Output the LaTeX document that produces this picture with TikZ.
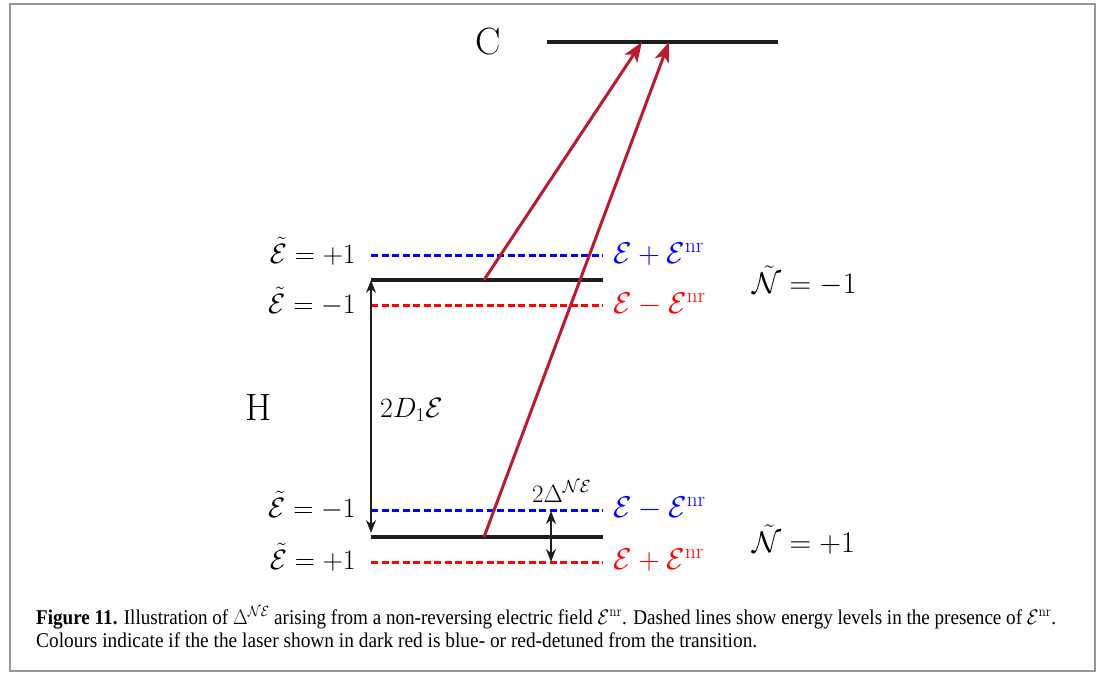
\RequirePackage{fix-cm}
\documentclass[tikz,border=0pt]{standalone}
\usepackage{fontspec}
\newfontfamily\capfont{Liberation Serif}
\usepackage{graphicx}
\usetikzlibrary{positioning, arrows.meta}
\definecolor{laserred}{RGB}{184,28,48}
\definecolor{levelblack}{RGB}{30,30,30}
\definecolor{framegray}{RGB}{150,150,150}

\begin{document}
\begin{tikzpicture}[x=1pt,y=-1pt]
  \tikzset{
    level/.style={line width=3.2pt, draw=levelblack},
    shifted/.style={line width=3pt, dash pattern=on 7pt off 3.5pt},
    laser/.style={line width=3pt, draw=laserred, -{Stealth[length=20pt,width=15pt,inset=5pt]}},
    gap/.style={line width=1.4pt, draw=levelblack, {Stealth[length=13pt,width=10pt]}-{Stealth[length=13pt,width=10pt]}},
    statelabel/.style={font=\fontsize{28}{32}\selectfont, inner sep=0pt},
    fieldlabel/.style={font=\fontsize{30}{34}\selectfont, inner sep=0pt},
    manifold/.style={font=\fontsize{38}{42}\selectfont, inner sep=0pt},
    caption/.style={font=\capfont\fontsize{21}{25}\selectfont, inner sep=0pt, anchor=base west}
  }
  \useasboundingbox (0,0) rectangle (1102,675);

  % frame round the figure
  \draw[framegray, line width=2pt] (10,4) rectangle (1095,671);

  % C state
  \coordinate (cL) at (547,42);
  \coordinate (cR) at (778,42);
  \coordinate (cE1) at (642,42);
  \coordinate (cE2) at (669,42);
  \draw[level] (cL) -- (cR);
  \node[manifold] (clab) at (488,42) {C};

  % H state, N = -1 manifold
  \coordinate (uL) at (371,280);
  \coordinate (uR) at (603,280);
  \coordinate (ubL) at (371,255);
  \coordinate (ubR) at (603,255);
  \coordinate (urL) at (371,305);
  \coordinate (urR) at (603,305);
  \coordinate (uS) at (484,280);
  \draw[level] (uL) -- (uR);
  \draw[shifted, blue] (ubL) -- (ubR);
  \draw[shifted, red] (urL) -- (urR);

  % H state, N = +1 manifold
  \coordinate (lL) at (371,537);
  \coordinate (lR) at (603,537);
  \coordinate (lbL) at (371,510);
  \coordinate (lbR) at (603,510);
  \coordinate (lrL) at (371,562);
  \coordinate (lrR) at (603,562);
  \coordinate (lS) at (484,537);
  \draw[level] (lL) -- (lR);
  \draw[shifted, blue] (lbL) -- (lbR);
  \draw[shifted, red] (lrL) -- (lrR);

  \node[manifold] (hlab) at (259,408) {H};

  % E tilde labels
  \node[statelabel, left=15pt of ubL, anchor=base east, yshift=-8pt] (eu1) {$\tilde{\mathcal{E}}=+1$};
  \node[statelabel, left=15pt of urL, anchor=base east, yshift=-8pt] (eu2) {$\tilde{\mathcal{E}}=-1$};
  \node[statelabel, left=15pt of lbL, anchor=base east, yshift=-7pt] (el1) {$\tilde{\mathcal{E}}=-1$};
  \node[statelabel, left=15pt of lrL, anchor=base east, yshift=-7pt] (el2) {$\tilde{\mathcal{E}}=+1$};

  % shifted field labels
  \node[fieldlabel, right=10pt of ubR, anchor=base west, yshift=-8pt, text=blue] (fu1) {$\mathcal{E}+\mathcal{E}^{\mathrm{nr}}$};
  \node[fieldlabel, right=10pt of urR, anchor=base west, yshift=-8pt, text=red] (fu2) {$\mathcal{E}-\mathcal{E}^{\mathrm{nr}}$};
  \node[fieldlabel, right=10pt of lbR, anchor=base west, yshift=-7pt, text=blue] (fl1) {$\mathcal{E}-\mathcal{E}^{\mathrm{nr}}$};
  \node[fieldlabel, right=10pt of lrR, anchor=base west, yshift=-7pt, text=red] (fl2) {$\mathcal{E}+\mathcal{E}^{\mathrm{nr}}$};

  % N tilde labels
  \node[fieldlabel, anchor=base west] (nu) at (752,293) {$\tilde{\mathcal{N}}=-1$};
  \node[fieldlabel, anchor=base west] (nl) at (752,552) {$\tilde{\mathcal{N}}=+1$};

  % splittings
  \coordinate (gB) at (371,533);
  \draw[gap] (gB) -- (uL);
  \node[statelabel, anchor=base west] (dlab) at (380,417) {$2D_1\mathcal{E}$};
  \coordinate (sT) at (551,511);
  \coordinate (sB) at (551,562);
  \draw[gap] (sT) -- (sB);
  \node[statelabel, anchor=base west, font=\fontsize{25}{30}\selectfont] (slab) at (532,502) {$2\Delta^{\mathcal{N}\mathcal{E}}$};

  % laser
  \draw[laser] (uS) -- (cE1);
  \draw[laser] (lS) -- (cE2);

  % caption
  \node[caption] (cap1) at (36,624) {\resizebox{1020pt}{\height}{\textbf{Figure 11.} Illustration of $\Delta^{\mathcal{NE}}$ arising from a non-reversing electric field $\mathcal{E}^{\mathrm{nr}}$. Dashed lines show energy levels in the presence of $\mathcal{E}^{\mathrm{nr}}$.}};
  \node[caption] (cap2) at (36,647) {\resizebox{721pt}{\height}{Colours indicate if the the laser shown in dark red is blue- or red-detuned from the transition.}};
\end{tikzpicture}
\end{document}
